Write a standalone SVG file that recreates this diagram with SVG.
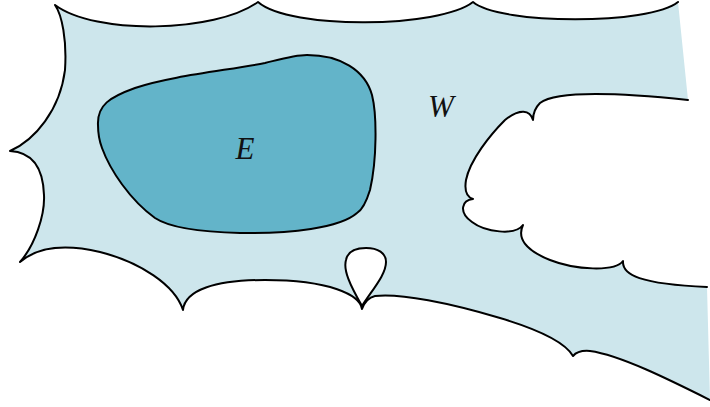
<svg xmlns="http://www.w3.org/2000/svg" width="710" height="407" viewBox="0 0 710 407">
<style>
.edge{fill:none;stroke:#000;stroke-width:2;stroke-linejoin:round;stroke-linecap:round}
.lbl{font-family:"Liberation Serif","Times New Roman",serif;font-style:italic;font-size:31px;fill:#111;text-anchor:middle}
</style>
<rect width="710" height="407" fill="#fff"/>
<g id="W">
<path fill="#cde6ec" d="M55,5 C95,35 215,33 258,2 C290,30 440,28 473,2 C500,25 650,25 678,2 L688,100 C640,95 560,88 540,103 Q533,110 533,120 C530,110 520,108 505,120 C490,135 470,160 466,180 C464,192 467,197 473,199 C462,200 458,212 472,222 C485,232 515,236 523,225 C517,238 525,250 550,260 C575,270 615,272 623,261 C622,275 640,284 707,287 L710,400 C670,380 620,355 590,351 Q578,350 573,356 C565,342 540,330 500,318 C450,303 400,293 375,296 Q366,298 362,309 C360,295 330,280 265,280 C215,280 185,290 183,310 C175,285 140,262 100,252 C70,245 40,245 20,262 C35,245 45,215 44,195 C43,165 30,152 10,151 C35,140 60,110 65,70 C67,40 62,15 55,5 Z"/>
<path class="edge" d="M55,5 C95,35 215,33 258,2 C290,30 440,28 473,2 C500,25 650,25 678,2 M688,100 C640,95 560,88 540,103 Q533,110 533,120 C530,110 520,108 505,120 C490,135 470,160 466,180 C464,192 467,197 473,199 C462,200 458,212 472,222 C485,232 515,236 523,225 C517,238 525,250 550,260 C575,270 615,272 623,261 C622,275 640,284 707,287 M710,400 C670,380 620,355 590,351 Q578,350 573,356 C565,342 540,330 500,318 C450,303 400,293 375,296 Q366,298 362,309 C360,295 330,280 265,280 C215,280 185,290 183,310 C175,285 140,262 100,252 C70,245 40,245 20,262 C35,245 45,215 44,195 C43,165 30,152 10,151 C35,140 60,110 65,70 C67,40 62,15 55,5"/>
<text class="lbl" x="441" y="117">W</text>
</g>
<g id="hole">
<path class="edge" style="fill:#fff" d="M362,306 C350,285 343,270 346,260 C348,250 358,248 366,248 C378,248 386,253 386,262 C386,275 372,290 362,306 Z"/>
</g>
<g id="E">
<path class="edge" style="fill:#63b4c9" d="M98,125 C97,105 110,97 135,88 C170,76 230,70 265,63 C285,58 295,55 307,55 C340,55 365,70 372,95 C377,115 377,160 370,190 C366,203 362,210 357,213 C340,228 290,234 240,233 C200,232 170,228 155,218 C130,200 110,170 102,148 C99,140 98,132 98,125 Z"/>
<text class="lbl" x="245" y="159">E</text>
</g>
<g id="connectors"/>
</svg>
